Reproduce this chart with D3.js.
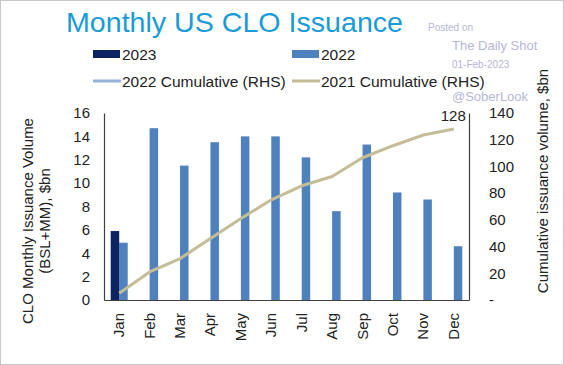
<!DOCTYPE html>
<html>
<head>
<meta charset="utf-8">
<script src="https://cdn.jsdelivr.net/npm/d3@7"></script>
<style>
  body { margin: 0; background: #fff; }
  svg text { font-family: "Liberation Sans", Arial, sans-serif; }
</style>
</head>
<body>
<div id="chart"></div>
<script>
var width  = 564,
    height = 365;

// data
var months      = ["Jan", "Feb", "Mar", "Apr", "May", "Jun", "Jul", "Aug", "Sep", "Oct", "Nov", "Dec"];
var issue2023   = [5.9];
var issue2022   = [4.9, 14.7, 11.5, 13.5, 14.0, 14.0, 12.2, 7.6, 13.3, 9.2, 8.6, 4.6];
var cum2021     = [5, 21, 31, 46, 61, 75, 85.5, 92.5, 106.5, 115.5, 123.5, 128];
var leftTicks   = [0, 2, 4, 6, 8, 10, 12, 14, 16];
var rightTicks  = [0, 20, 40, 60, 80, 100, 120, 140];

var margin = {left: 104, right: 469, top: 113, bottom: 300};

var svg = d3.select("#chart").append("svg")
    .attr("width", width)
    .attr("height", height);

// frame round the picture
svg.append("rect")
    .attr("x", 0.5).attr("y", 0.5)
    .attr("width", width - 1).attr("height", height - 1)
    .attr("fill", "#fff")
    .attr("stroke", "#c6c6c6");

var x = d3.scaleBand()
    .domain(months)
    .range([margin.left, margin.right]);

var y = d3.scaleLinear()
    .domain([0, 16])
    .range([margin.bottom, margin.top]);

var y2 = d3.scaleLinear()
    .domain([0, 140])
    .range([margin.bottom, margin.top]);

var barW = 8.5;

// ====== bars ======
svg.append("g").selectAll("rect")
    .data(issue2022).enter()
    .append("rect")
    .attr("x", (d, i) => x(months[i]) + x.bandwidth() / 2)
    .attr("y", d => y(d))
    .attr("width", barW)
    .attr("height", d => y(0) - y(d))
    .attr("fill", "#4f81bd");

svg.append("g").selectAll("rect")
    .data(issue2023).enter()
    .append("rect")
    .attr("x", (d, i) => x(months[i]) + x.bandwidth() / 2 - barW)
    .attr("y", d => y(d))
    .attr("width", barW)
    .attr("height", d => y(0) - y(d))
    .attr("fill", "#0c2461");

// ====== cumulative line ======
var line = d3.line()
    .x((d, i) => x(months[i]) + x.bandwidth() / 2)
    .y(d => y2(d));

svg.append("path")
    .datum(cum2021)
    .attr("d", line)
    .attr("fill", "none")
    .attr("stroke", "#c4bd97")
    .attr("stroke-width", 3)
    .attr("stroke-linejoin", "round");

// end label
svg.append("text")
    .attr("x", x("Dec") + x.bandwidth() / 2 + 12)
    .attr("y", y2(cum2021[11]) - 8)
    .attr("text-anchor", "end")
    .attr("font-size", 15)
    .attr("fill", "#222")
    .text(cum2021[11]);

// ====== axes ======
var leftAxis = d3.axisLeft(y).tickValues(leftTicks).tickSize(0).tickPadding(14);
var gl = svg.append("g")
    .attr("transform", "translate(" + margin.left + ",0)")
    .call(leftAxis);

var rightAxis = d3.axisRight(y2).tickValues(rightTicks).tickSize(0).tickPadding(20)
    .tickFormat(d => d === 0 ? "-" : d);
var gr = svg.append("g")
    .attr("transform", "translate(" + margin.right + ",0)")
    .call(rightAxis);

var bottomAxis = d3.axisBottom(x).tickSize(0).tickPadding(0);
var gb = svg.append("g")
    .attr("transform", "translate(0," + margin.bottom + ")")
    .call(bottomAxis);

// month names stand upright, reading bottom to top
gb.selectAll("text")
    .attr("x", 0).attr("y", 0).attr("dy", 0)
    .attr("transform", "rotate(-90) translate(-13,5)")
    .attr("text-anchor", "end");

[gl, gr, gb].forEach(g => {
    g.selectAll("text").attr("font-size", 15).attr("fill", "#222")
        .attr("font-family", "'Liberation Sans', Arial, sans-serif");
    g.select(".domain").attr("stroke", "#404040").attr("stroke-width", 1.2);
});

// ====== axis titles ======
var ltitle = svg.append("text")
    .attr("transform", "translate(33,221) rotate(-90)")
    .attr("text-anchor", "middle")
    .attr("font-size", 15)
    .attr("fill", "#222");
ltitle.append("tspan").attr("x", 0).attr("dy", 0).text("CLO Monthly Issuance Volume");
ltitle.append("tspan").attr("x", 0).attr("dy", "1.1em").text("(BSL+MM), $bn");

svg.append("text")
    .attr("transform", "translate(548,181) rotate(-90)")
    .attr("text-anchor", "middle")
    .attr("font-size", 15)
    .attr("fill", "#222")
    .text("Cumulative issuance volume, $bn");

// ====== title ======
svg.append("text")
    .attr("x", 66).attr("y", 32)
    .attr("font-size", 28)
    .attr("textLength", 337)
    .attr("lengthAdjust", "spacingAndGlyphs")
    .attr("fill", "#1a9bd7")
    .text("Monthly US CLO Issuance");

// ====== watermark ======
var wm = [
    {t: "Posted on",      x: 428, y: 31,  s: 10},
    {t: "The Daily Shot", x: 452, y: 50,  s: 13},
    {t: "01-Feb-2023",    x: 452, y: 68,  s: 10},
    {t: "@SoberLook",     x: 452, y: 101, s: 13}
];
svg.append("g").selectAll("text")
    .data(wm).enter()
    .append("text")
    .attr("x", d => d.x).attr("y", d => d.y)
    .attr("font-size", d => d.s)
    .attr("fill", "#b6b6d6")
    .text(d => d.t);

// ====== legend ======
var legend = [
    {t: "2023",                  c: "#0c2461", kind: "box",  x: 93,  y: 54},
    {t: "2022",                  c: "#4f81bd", kind: "box",  x: 292, y: 54},
    {t: "2022 Cumulative (RHS)", c: "#95b3d7", kind: "line", x: 93,  y: 81},
    {t: "2021 Cumulative (RHS)", c: "#c4bd97", kind: "line", x: 292, y: 81}
];
var lg = svg.append("g").selectAll("g")
    .data(legend).enter()
    .append("g")
    .attr("transform", d => "translate(" + d.x + "," + d.y + ")");

lg.each(function(d) {
    var g = d3.select(this);
    if (d.kind == "box") {
        g.append("rect").attr("x", 0).attr("y", -4).attr("width", 27).attr("height", 8).attr("fill", d.c);
    } else {
        g.append("line").attr("x1", 0).attr("x2", 28).attr("y1", 0).attr("y2", 0)
            .attr("stroke", d.c).attr("stroke-width", 3);
    }
    g.append("text")
        .attr("x", 29).attr("y", 0).attr("dy", "0.36em")
        .attr("font-size", 15.5)
        .attr("fill", "#222")
        .text(d.t);
});
</script>
</body>
</html>
